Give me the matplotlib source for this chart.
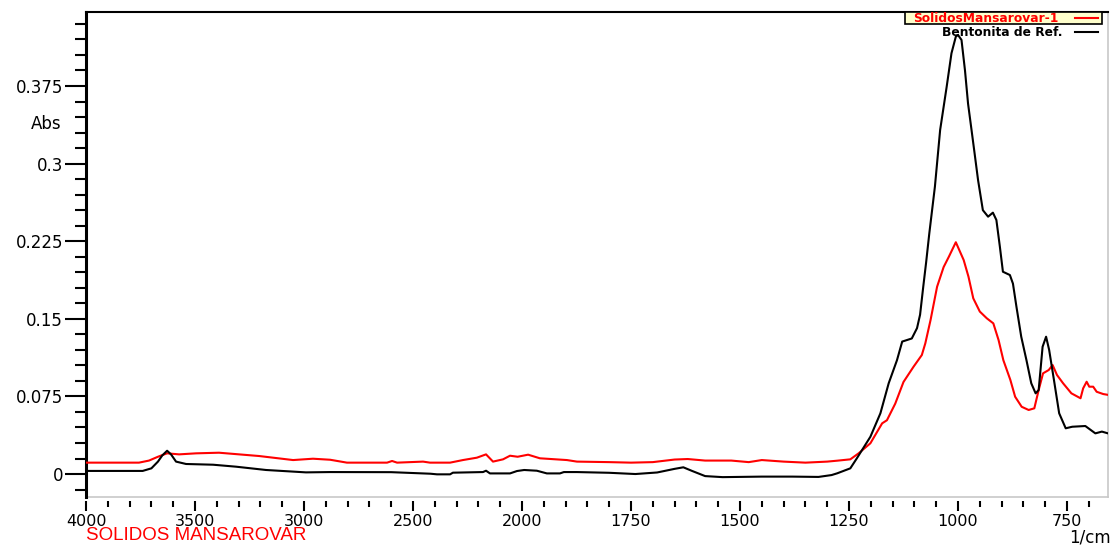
import numpy as np
import matplotlib
matplotlib.use("Agg")
import matplotlib.pyplot as plt
from matplotlib.patches import Rectangle
from matplotlib.lines import Line2D
from matplotlib.ticker import FixedLocator, FixedFormatter, NullFormatter

plt.rcParams["font.family"] = ["DejaVu Sans"]
plt.rcParams["font.size"] = 12

# ---------------- data ----------------
series_names = ["SolidosMansarovar-1", "Bentonita de Ref."]
series_colors = ["#ff0000", "#000000"]
sample_title = "SOLIDOS MANSAROVAR"
x_unit = "1/cm"
y_unit = "Abs"

ref_wn = [4000, 3740, 3700, 3670, 3650, 3628, 3610, 3587, 3541, 3417, 3312, 3174,
          2991, 2881, 2600, 2420, 2390, 2330, 2317, 2179, 2165, 2147, 2055, 2023,
          1995, 1966, 1943, 1913, 1904, 1874, 1800, 1740, 1690, 1650, 1630, 1610,
          1580, 1540, 1450, 1380, 1320, 1290, 1277, 1247, 1232, 1201, 1178, 1159,
          1140, 1128, 1117, 1106, 1094, 1087, 1080, 1073, 1066, 1053, 1041, 1026,
          1015, 1005, 1000, 992, 984, 977, 969, 962, 954, 943, 931, 920, 912, 904,
          897, 881, 874, 866, 855, 843, 832, 822, 815, 806, 798, 791, 780, 768,
          753, 738, 708, 685, 670, 656]
ref_abs = [0.003, 0.003, 0.0055, 0.012, 0.018, 0.0225, 0.019, 0.012, 0.0097, 0.009,
           0.0071, 0.0039, 0.0016, 0.0019, 0.0018, 0.0003, -0.0003, -0.0003, 0.0013,
           0.0019, 0.0032, 0.0006, 0.0006, 0.0029, 0.0039, 0.0032, 0.0006, 0.0006,
           0.0019, 0.0019, 0.0012, 0.0, 0.0015, 0.005, 0.0065, 0.003, -0.002, -0.003,
           -0.0025, -0.0025, -0.0028, -0.001, 0.0007, 0.0055, 0.0152, 0.036, 0.0587,
           0.0877, 0.110, 0.128, 0.1295, 0.131, 0.141, 0.154, 0.180, 0.205, 0.232,
           0.2777, 0.3325, 0.3743, 0.4066, 0.4227, 0.4243, 0.4195, 0.390, 0.358,
           0.3325, 0.310, 0.284, 0.255, 0.2487, 0.2526, 0.2455, 0.2197, 0.1955,
           0.1923, 0.184, 0.1617, 0.1327, 0.110, 0.0877, 0.078, 0.0812, 0.123,
           0.1327, 0.120, 0.091, 0.0587, 0.0442, 0.0457, 0.0464, 0.0393, 0.041, 0.0393]

sam_wn = [4000, 3757, 3711, 3670, 3628, 3573, 3495, 3390, 3298, 3206, 3050, 2959,
          2880, 2803, 2619, 2596, 2573, 2454, 2422, 2330, 2271, 2207, 2165, 2133,
          2087, 2055, 2020, 1986, 1959, 1897, 1874, 1800, 1750, 1700, 1650, 1620,
          1580, 1520, 1480, 1450, 1400, 1350, 1300, 1277, 1247, 1228, 1201, 1174,
          1163, 1144, 1125, 1102, 1083, 1075, 1063, 1048, 1033, 1021, 1005, 987,
          976, 965, 950, 934, 919, 907, 896, 880, 869, 854, 838, 825, 815, 805,
          792, 783, 773, 759, 740, 719, 713, 705, 699, 690, 682, 667, 656]
sam_abs = [0.011, 0.011, 0.013, 0.0167, 0.020, 0.019, 0.020, 0.0206, 0.019, 0.0174,
           0.0135, 0.0148, 0.0138, 0.011, 0.011, 0.0126, 0.011, 0.012, 0.011, 0.011,
           0.0135, 0.0158, 0.019, 0.012, 0.0142, 0.0177, 0.0167, 0.0187, 0.0152,
           0.0135, 0.012, 0.0115, 0.011, 0.0115, 0.014, 0.0145, 0.013, 0.013, 0.0115,
           0.0135, 0.012, 0.011, 0.012, 0.0129, 0.0142, 0.020, 0.0297, 0.049, 0.052,
           0.068, 0.089, 0.1037, 0.115, 0.1263, 0.1488, 0.181, 0.200, 0.210, 0.224,
           0.2068, 0.1907, 0.1698, 0.157, 0.1505, 0.1456, 0.1295, 0.110, 0.091,
           0.0747, 0.065, 0.0619, 0.0635, 0.0812, 0.0973, 0.1005, 0.1053, 0.0957,
           0.0877, 0.078, 0.0732, 0.0828, 0.0892, 0.0844, 0.0844, 0.0795, 0.0773,
           0.0765]

x_major = [4000, 3500, 3000, 2500, 2000, 1750, 1500, 1250, 1000, 750]
y_major = [0, 0.075, 0.15, 0.225, 0.3, 0.375]
y_major_labels = ["0", "0.075", "0.15", "0.225", "0.3", "0.375"]

# ---------------- figure ----------------
W, H = 1114, 545
fig = plt.figure(figsize=(W / 100, H / 100), dpi=100)
L, R, T, B = 86, 1108, 12, 497
ax = fig.add_axes([L / W, 1 - B / H, (R - L) / W, (B - T) / H])

# FTIR style axis: scale changes at 2000 1/cm
def fwd(x):
    x = np.asarray(x, dtype=float)
    return np.where(x >= 2000, x, 2 * x - 2000)

def inv(t):
    t = np.asarray(t, dtype=float)
    return np.where(t >= 2000, t, (t + 2000) / 2)

ax.set_xscale("function", functions=(fwd, inv))

ax.plot(sam_wn, sam_abs, color=series_colors[0], lw=1.5, zorder=3)
ax.plot(ref_wn, ref_abs, color=series_colors[1], lw=1.5, zorder=4)

ax.set_xlim(4000, 656)
ax.set_ylim(-0.0222, 0.4465)

ax.xaxis.set_major_locator(FixedLocator(x_major))
ax.xaxis.set_major_formatter(FixedFormatter([str(v) for v in x_major]))
x_minor = [v for v in list(range(3900, 2000, -100)) + list(range(1950, 640, -50)) if v not in x_major]
ax.xaxis.set_minor_locator(FixedLocator(x_minor))
ax.xaxis.set_minor_formatter(NullFormatter())

ax.yaxis.set_major_locator(FixedLocator(y_major))
ax.yaxis.set_major_formatter(FixedFormatter(y_major_labels))
y_minor = [round(-0.015 + 0.015 * i, 3) for i in range(31)]
y_minor = [v for v in y_minor if all(abs(v - m) > 1e-6 for m in y_major)]
ax.yaxis.set_minor_locator(FixedLocator(y_minor))
ax.yaxis.set_minor_formatter(NullFormatter())

ax.tick_params(axis="y", which="major", labelsize=12)
ax.tick_params(axis="x", which="major", labelsize=11.5)
ax.tick_params(axis="y", which="major", direction="out", length=15, width=1.5, pad=1.5, color="black")
ax.tick_params(axis="y", which="minor", direction="out", length=8, width=1.5, color="black")
ax.tick_params(axis="x", which="major", direction="out", length=7.5, width=1.5, pad=1.5, color="black")
ax.tick_params(axis="x", which="minor", direction="out", length=4, width=1.5, color="black")

ax.spines["left"].set_linewidth(2.2)
ax.spines["left"].set_color("black")
ax.spines["top"].set_linewidth(1.5)
ax.spines["top"].set_color("black")
ax.spines["right"].set_linewidth(1.2)
ax.spines["right"].set_color("#c8c8c8")
ax.spines["bottom"].set_position(("outward", 3))
ax.spines["bottom"].set_visible(False)
ax.add_line(Line2D([0, 1], [0, 0], transform=ax.transAxes, color="#c8c8c8", lw=1.2, clip_on=False))

def fx(px):
    return px / W

def fy(py):
    return 1 - py / H

# "Abs" unit label
fig.text(fx(46), fy(124), y_unit, ha="center", va="center", size=12)
# x unit
fig.text(fx(1111), fy(537), x_unit, ha="right", va="center", size=12)
# sample title
fig.text(fx(86), fy(544.5), sample_title, ha="left", va="bottom", color="#ff0000",
         family="Liberation Sans", size=13.5)

# legend
fig.patches.append(Rectangle((fx(905), fy(24)), (1102 - 905) / W, 12 / H,
                             transform=fig.transFigure, facecolor="#ffffcc",
                             edgecolor="black", lw=1.2, zorder=5))
leg_font = dict(family="DejaVu Sans", size=8.8, weight="bold")
fig.text(fx(1058), fy(18), series_names[0], ha="right", va="center",
         color=series_colors[0], zorder=6, **leg_font)
fig.text(fx(1062), fy(33), series_names[1], ha="right", va="center",
         color=series_colors[1], zorder=6, **leg_font)
fig.lines.append(Line2D([fx(1075), fx(1098)], [fy(18), fy(18)], transform=fig.transFigure,
                        color=series_colors[0], lw=1.5, zorder=6))
fig.lines.append(Line2D([fx(1075), fx(1098)], [fy(32), fy(32)], transform=fig.transFigure,
                        color=series_colors[1], lw=1.5, zorder=6))

fig.savefig("out.png", dpi=100)
